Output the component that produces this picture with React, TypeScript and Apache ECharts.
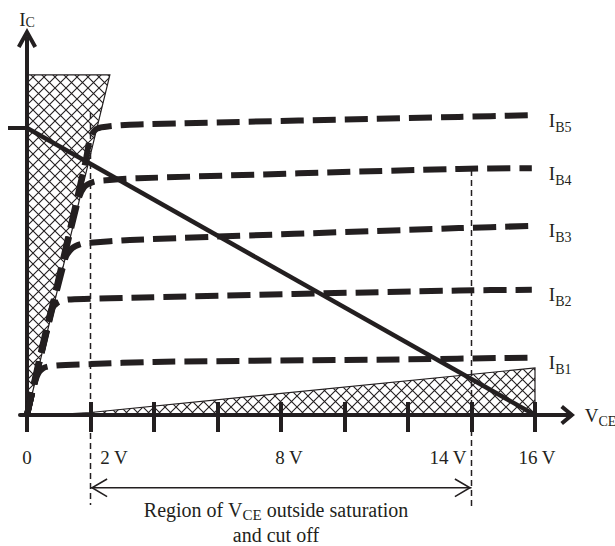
import { useEffect, useRef } from 'react';
import * as echarts from 'echarts';

const INK = '#231f20';
const FONT = '"Liberation Serif", "DejaVu Serif", serif';

// Axis values
const vceTicks = [0, 2, 4, 6, 8, 10, 12, 14, 16];
const vceLabels = [0, 2, 8, 14, 16];
const icTicks = [8];

// Output characteristic curves (V_CE in volts, I_C in arbitrary units)
const ib1 = [[0, 0], [0.3, 1.05], [0.5, 1.3], [0.9, 1.38], [2, 1.42], [4, 1.48], [11.75, 1.55], [15.9, 1.6]];
const ib2 = [[0, 0], [0.75, 2.9], [0.95, 3.12], [1.3, 3.22], [2, 3.24], [3.24, 3.27], [13.6, 3.47], [15.9, 3.49]];
const ib3 = [[0, 0], [1.2, 4.35], [1.42, 4.65], [1.7, 4.77], [2, 4.8], [3.24, 4.88], [13.6, 5.21], [15.9, 5.27]];
const ib4 = [[0, 0], [1.6, 5.95], [1.8, 6.35], [2.1, 6.5], [2.6, 6.55], [3.5, 6.6], [13.6, 6.86], [15.9, 6.88]];
const ib5 = [[0, 0], [1.85, 7.1], [2.0, 7.75], [2.2, 7.98], [2.6, 8.05], [3.5, 8.1], [13.6, 8.31], [15.9, 8.36]];
const curves = [ib1, ib2, ib3, ib4, ib5];
const curveNames = ['B1', 'B2', 'B3', 'B4', 'B5'];

const loadLine = [[0, 8], [16, 0]];
const saturationRegion = [[0, 0], [0, 9.48], [2.61, 9.48]];
const cutoffRegion = [[0, 0], [1, 0.02], [2, 0.07], [16, 1.31], [16, 0]];
const markerLeft = [[2, 8.42], [2, -2.51]];
const markerRight = [[14, 6.83], [14, -2.65]];
const rangeArrow = [[2, -2.03], [14, -2.03]];

const X_ARROW = 'path://M0,12 L10,0 L20,12 L16.93,14.56 L10,6.24 L3.07,14.56 Z';
const Y_ARROW = 'path://M0,18 L10,0 L20,18 L16.5,19.94 L10,8.24 L3.5,19.94 Z';
const CHEV_LEFT = 'path://M0,9.5 L16.2,0 L17,1.4 L3.2,9.5 L17,17.6 L16.2,19 Z';
const CHEV_RIGHT = 'path://M17,9.5 L0.8,0 L0,1.4 L13.8,9.5 L0,17.6 L0.8,19 Z';

function makeHatch() {
  const s = 11;
  const c = document.createElement('canvas');
  c.width = s;
  c.height = s;
  const g = c.getContext('2d')!;
  g.strokeStyle = INK;
  g.lineWidth = 1.1;
  g.beginPath();
  g.moveTo(-1, -1);
  g.lineTo(s + 1, s + 1);
  g.moveTo(s + 1, -1);
  g.lineTo(-1, s + 1);
  g.stroke();
  return { image: c, repeat: 'repeat', imageWidth: s, imageHeight: s };
}

export default function App() {
  const ref = useRef<HTMLDivElement>(null);
  useEffect(() => {
    if (!ref.current) return;
    const chart = echarts.init(ref.current, undefined, { renderer: 'svg' });
    const hatch = makeHatch();

    const regionSeries = (pts: number[][]) => ({
      type: 'custom',
      silent: true,
      clip: false,
      z: 1,
      data: [[0, 0]],
      renderItem: (_p: any, api: any) => ({
        type: 'polygon',
        shape: { points: pts.map((p) => api.coord(p)) },
        style: { fill: hatch, stroke: INK, lineWidth: 1.2 },
      }),
    });

    const subRich = (pad: number) => ({
      i: { fontSize: 19, fontFamily: FONT, color: INK },
      s: { fontSize: 14, fontFamily: FONT, color: INK, padding: [pad, 0, 0, 0] },
    });

    const curveSeries = curves.map((d, k) => ({
      type: 'line',
      name: 'I' + curveNames[k],
      data: d,
      symbol: 'none',
      smooth: 0.3,
      silent: true,
      z: 3,
      lineStyle: { color: INK, width: 6, type: [23, 9], cap: 'butt' },
      endLabel: {
        show: true,
        formatter: `{i|I}{s|${curveNames[k]}}`,
        distance: 17,
        offset: [0, 5],
        rich: subRich(14),
      },
    }));

    const thinDash = (d: number[][]) => ({
      type: 'line',
      data: d,
      symbol: 'none',
      clip: false,
      silent: true,
      z: 2,
      lineStyle: { color: INK, width: 1.5, type: [6, 4] },
    });

    const tickLabelFmt = (v: number) => {
      if (v === 0) return '{z|0}';
      if (v === 2) return '{a|2 V}';
      if (v === 8) return '{b|8 V}';
      if (v === 14) return '{c|14 V}';
      return '{d|16 V}';
    };
    const lbl = (pad: number[]) => ({ fontSize: 19, lineHeight: 20, fontFamily: FONT, color: INK, padding: pad });

    const option: any = {
      animation: false,
      backgroundColor: '#fff',
      grid: { left: 20, top: 38, width: 547.7, height: 377, containLabel: false, outerBoundsMode: 'none' },
      xAxis: [
        {
          type: 'value',
          position: 'bottom',
          min: -0.2205,
          max: 17.03,
          name: '{v|V}{s|CE}',
          nameLocation: 'end',
          nameGap: 17,
          nameMoveOverlap: false,
          nameTextStyle: {
            rich: {
              v: { fontSize: 19, fontFamily: FONT, color: INK },
              s: { fontSize: 14, fontFamily: FONT, color: INK, padding: [12, 0, 0, 0] },
            },
          },
          axisLine: {
            show: true,
            onZero: true,
            symbol: ['none', X_ARROW],
            symbolSize: [20, 14.56],
            lineStyle: { color: INK, width: 4 },
          },
          axisTick: { show: true, customValues: vceTicks, length: 17, lineStyle: { color: INK, width: 4 } },
          axisLabel: {
            show: true,
            customValues: vceLabels,
            margin: 32,
            formatter: tickLabelFmt,
            rich: {
              z: lbl([0, 0, 0, 0]),
              a: lbl([0, 0, 0, 47]),
              b: lbl([0, 0, 0, 16]),
              c: lbl([0, 47, 0, 0]),
              d: lbl([0, 0, 0, 4]),
            },
          },
          splitLine: { show: false },
        },
        {
          type: 'value',
          position: 'bottom',
          offset: 0,
          min: -0.2205,
          max: 17.03,
          axisLine: { show: false, onZero: true },
          axisTick: { show: true, inside: true, customValues: vceTicks, length: 13, lineStyle: { color: INK, width: 4 } },
          axisLabel: { show: false },
          splitLine: { show: false },
        },
      ],
      yAxis: {
        type: 'value',
        min: 0,
        max: 10.51,
        name: '{i|I}{s|C}',
        nameLocation: 'end',
        nameGap: 8.5,
        nameMoveOverlap: false,
        nameTextStyle: { rich: subRich(7) },
        axisLine: {
          show: true,
          onZero: true,
          onZeroAxisIndex: 0,
          symbol: ['none', Y_ARROW],
          symbolSize: [20, 19.94],
          lineStyle: { color: INK, width: 4 },
        },
        axisTick: { show: true, customValues: icTicks, length: 19, lineStyle: { color: INK, width: 4 } },
        axisLabel: { show: false },
        splitLine: { show: false },
      },
      series: [
        regionSeries(saturationRegion),
        regionSeries(cutoffRegion),
        thinDash(markerLeft),
        thinDash(markerRight),
        ...curveSeries,
        {
          type: 'line',
          data: loadLine,
          symbol: 'none',
          silent: true,
          z: 4,
          lineStyle: { color: INK, width: 4.5, cap: 'butt' },
        },
        {
          type: 'line',
          clip: false,
          silent: true,
          z: 2,
          symbolSize: [17, 19],
          showSymbol: true,
          data: [
            { value: rangeArrow[0], symbol: CHEV_LEFT, symbolOffset: [8.5, 0] },
            { value: rangeArrow[1], symbol: CHEV_RIGHT, symbolOffset: [-8.5, 0] },
          ],
          lineStyle: { color: INK, width: 1.5 },
          itemStyle: { color: INK, borderWidth: 0 },
        },
      ],
      graphic: [
        {
          type: 'text',
          x: 276,
          y: 497,
          silent: true,
          style: {
            text: '{n|Region of V}{s|CE}{n| outside saturation}\n{n|and cut off}',
            align: 'center',
            verticalAlign: 'top',
            fill: INK,
            rich: {
              n: { fontSize: 20, lineHeight: 25, fontFamily: FONT, fill: INK },
              s: { fontSize: 15, fontFamily: FONT, fill: INK, padding: [10, 0, 0, 0] },
            },
          },
        },
      ],
    };
    chart.setOption(option);
    return () => chart.dispose();
  }, []);
  return (
    <div
      ref={ref}
      style={{ position: 'fixed', left: 0, top: 0, width: 615, height: 546, background: '#fff' }}
    />
  );
}
